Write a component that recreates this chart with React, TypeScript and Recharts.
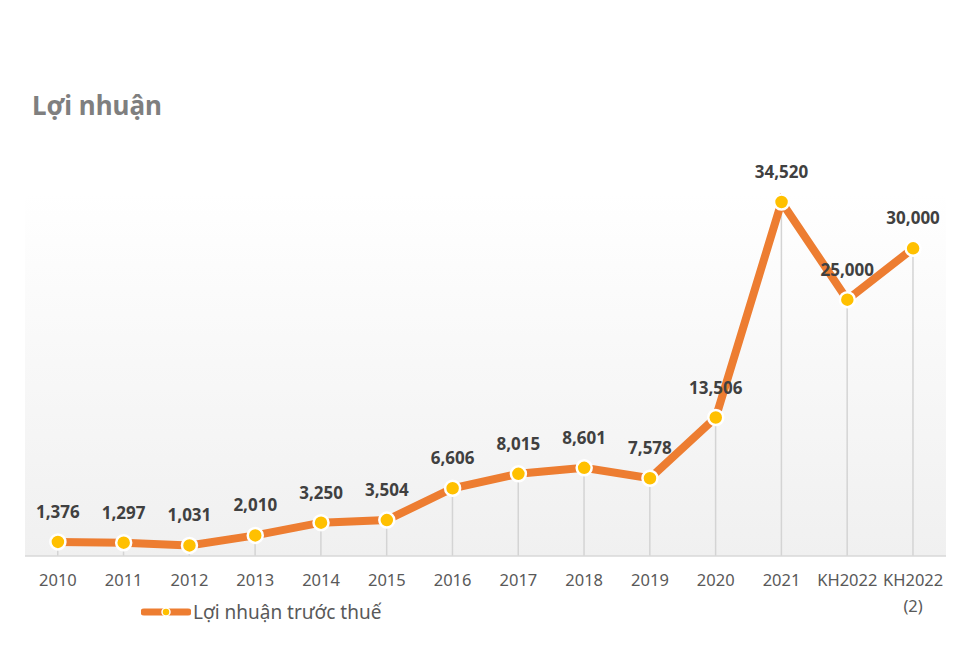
import React from 'react';
import { ComposedChart, Line, Bar, XAxis, YAxis, CartesianGrid, LabelList, Legend } from 'recharts';

const categories = ['2010', '2011', '2012', '2013', '2014', '2015', '2016', '2017', '2018', '2019', '2020', '2021', 'KH2022', 'KH2022 (2)'];
const profit = [1376, 1297, 1031, 2010, 3250, 3504, 6606, 8015, 8601, 7578, 13506, 34520, 25000, 30000];
const seriesName = 'Lợi nhuận trước thuế';

const data = categories.map((name, i) => ({ name, value: profit[i] }));

const FONT = '"Noto Sans", "Open Sans", sans-serif';

const fmt = (v: any) => Number(v).toLocaleString('en-US');

const CategoryTick = ({ x, y, payload }: any) => {
  const lines = String(payload.value).split(' ');
  return (
    <text x={x} y={y + 22} textAnchor="middle" fill="#595959" fontSize={16.5} fontFamily={FONT}>
      {lines.map((l, i) => (
        <tspan key={i} x={x} dy={i === 0 ? 0 : 26}>{l}</tspan>
      ))}
    </text>
  );
};

const LegendContent = () => (
  <div style={{ display: 'flex', alignItems: 'center', fontFamily: FONT, fontSize: 19, color: '#595959' }}>
    <svg width={50} height={14} style={{ marginRight: 2 }}>
      <line x1={3} y1={7} x2={47} y2={7} stroke="#ED7D31" strokeWidth={7} strokeLinecap="round" />
      <circle cx={25} cy={7} r={4} fill="#FFC000" stroke="#fff" strokeWidth={1.5} />
    </svg>
    <span>{seriesName}</span>
  </div>
);

export default function App() {
  return (
    <div style={{ position: 'fixed', left: 0, top: 0, width: 977, height: 652, background: '#fff' }}>
      <div style={{ position: 'absolute', left: 32, top: 87, fontFamily: FONT, fontWeight: 700, fontSize: 26, color: '#7f7f7f' }}>
        Lợi nhuận
      </div>
      <ComposedChart width={977} height={652} data={data} margin={{ top: 193, right: 31, left: 25, bottom: 0 }}>
        <defs>
          <linearGradient id="bgGrad" x1="0" y1="0" x2="0" y2="1">
            <stop offset="0%" stopColor="#ffffff" />
            <stop offset="100%" stopColor="#f0f0f0" />
          </linearGradient>
        </defs>
        <CartesianGrid horizontal={false} vertical={false} fill="url(#bgGrad)" stroke="none" />
        <XAxis
          dataKey="name"
          height={96}
          tickLine={false}
          axisLine={{ stroke: '#d9d9d9', strokeWidth: 1.5 }}
          tick={<CategoryTick />}
          interval={0}
        />
        <YAxis hide domain={[0, 35400]} />
        <Legend
          layout="horizontal"
          verticalAlign="middle"
          align="center"
          content={<LegendContent />}
          wrapperStyle={{ position: 'absolute', top: 599, left: 141, width: 'auto' }}
        />
        <Bar dataKey="value" barSize={1.5} fill="#d4d4d4" isAnimationActive={false} legendType="none" />
        <Line
          type="linear"
          dataKey="value"
          name={seriesName}
          stroke="#ED7D31"
          strokeWidth={8}
          dot={{ r: 7.5, fill: '#FFC000', stroke: '#ffffff', strokeWidth: 2.5 }}
          activeDot={false}
          isAnimationActive={false}
        >
          <LabelList
            dataKey="value"
            position="top"
            offset={24}
            formatter={fmt}
            fill="#404040"
            fontSize={17}
            fontWeight={700}
            fontFamily={FONT}
          />
        </Line>
      </ComposedChart>
    </div>
  );
}
